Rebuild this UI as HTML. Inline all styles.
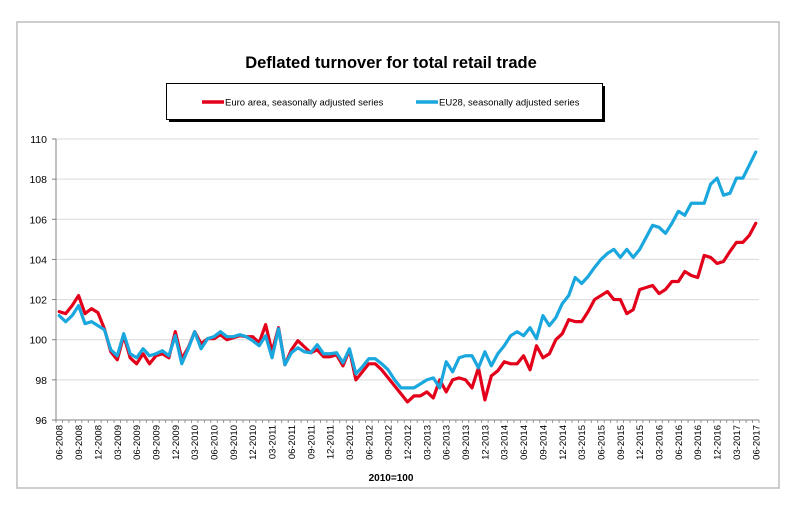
<!DOCTYPE html>
<html><head><meta charset="utf-8"><style>
html,body{margin:0;padding:0;background:#fff;width:805px;height:520px;overflow:hidden}
svg{display:block;font-family:"Liberation Sans",Arial,sans-serif}
</style></head><body>
<svg id="chart" width="805" height="520" viewBox="0 0 805 520">
<rect x="17" y="22" width="762" height="466" fill="#fff" stroke="#bdbdbd" stroke-width="1.5"/>
<text x="391" y="68" text-anchor="middle" font-size="16.5" font-weight="bold" fill="#000">Deflated turnover for total retail trade</text>
<g>
<rect x="169" y="86" width="436" height="36" fill="#000"/>
<rect x="166.5" y="83.5" width="436" height="36" fill="#fff" stroke="#000" stroke-width="1"/>
<g>
<line x1="202" y1="102" x2="224" y2="102" stroke="#e2001a" stroke-width="3.5"/>
<text x="225" y="105.5" font-size="9.5" fill="#000">Euro area, seasonally adjusted series</text>
</g>
<g>
<line x1="416" y1="102" x2="438" y2="102" stroke="#1aa7de" stroke-width="3.5"/>
<text x="439" y="105.5" font-size="9.5" fill="#000">EU28, seasonally adjusted series</text>
</g>
</g>
<g id="grid"></g>
<g id="yaxis"></g>
<g id="xaxis"></g>
<g id="series"></g>
<text x="391" y="481" text-anchor="middle" font-size="10" font-weight="bold" fill="#000">2010=100</text>
</svg>
<script>
const euroArea = [101.4,101.3,101.7,102.2,101.3,101.55,101.35,100.55,99.4,99.0,100.2,99.1,98.8,99.3,98.8,99.2,99.3,99.1,100.4,99.05,99.6,100.4,99.8,100.05,100.05,100.25,100.0,100.1,100.2,100.15,100.15,99.85,100.75,99.4,100.6,98.75,99.5,99.95,99.65,99.35,99.5,99.15,99.15,99.25,98.7,99.5,98.0,98.4,98.8,98.8,98.5,98.1,97.7,97.3,96.9,97.2,97.2,97.4,97.1,98.0,97.4,98.0,98.1,98.0,97.6,98.6,97.0,98.2,98.45,98.9,98.8,98.8,99.2,98.5,99.7,99.1,99.3,100.0,100.3,101.0,100.9,100.9,101.4,102.0,102.2,102.4,102.0,102.0,101.3,101.5,102.5,102.6,102.7,102.3,102.5,102.9,102.9,103.4,103.2,103.1,104.2,104.1,103.8,103.9,104.4,104.85,104.85,105.2,105.8];
const eu28 = [101.2,100.9,101.2,101.7,100.8,100.9,100.7,100.5,99.5,99.2,100.3,99.3,99.1,99.55,99.2,99.3,99.45,99.2,100.2,98.8,99.55,100.4,99.55,100.05,100.15,100.4,100.15,100.15,100.25,100.15,99.95,99.7,100.2,99.1,100.55,98.75,99.35,99.6,99.4,99.35,99.75,99.3,99.3,99.35,98.85,99.55,98.3,98.65,99.05,99.05,98.8,98.5,98.0,97.6,97.6,97.6,97.8,98.0,98.1,97.6,98.9,98.4,99.1,99.2,99.2,98.6,99.4,98.7,99.3,99.7,100.2,100.4,100.2,100.6,100.05,101.2,100.7,101.1,101.8,102.2,103.1,102.8,103.15,103.6,104.0,104.3,104.5,104.1,104.5,104.1,104.5,105.1,105.7,105.6,105.3,105.8,106.4,106.2,106.8,106.8,106.8,107.75,108.05,107.2,107.3,108.05,108.05,108.7,109.35];
const yTicks = [96,98,100,102,104,106,108,110];
const startYear = 2008, startMonth = 6;

const NS = "http://www.w3.org/2000/svg";
const X0 = 56, X1 = 759, Y0 = 420, Y1 = 139, YMIN = 96, YMAX = 110;
const N = euroArea.length;
const step = (X1 - X0) / N;
function xScale(i){ return X0 + step * (i + 0.5); }
function yScale(v){ return Y0 - (v - YMIN) / (YMAX - YMIN) * (Y0 - Y1); }
function mk(tag, attrs, parent){ const e = document.createElementNS(NS, tag); for (const k in attrs) e.setAttribute(k, attrs[k]); parent.appendChild(e); return e; }

const grid = document.getElementById('grid');
const yaxis = document.getElementById('yaxis');
const xaxis = document.getElementById('xaxis');
const series = document.getElementById('series');

yTicks.forEach(t => {
  const y = yScale(t);
  if (t !== YMIN) {
    const g = mk('line', {x1: X0, x2: X1, y1: y, y2: y, stroke: '#d9d9d9', 'stroke-width': 1}, grid);
    
    
  }
  mk('line', {x1: X0 - 4, x2: X0, y1: y, y2: y, stroke: '#808080', 'stroke-width': 1}, yaxis);
  const lbl = mk('text', {x: 47, y: y + 4, 'text-anchor': 'end', 'font-size': 10.5, fill: '#000'}, yaxis);
  lbl.textContent = t;
  
  
});
mk('line', {x1: X0, x2: X0, y1: Y1, y2: Y0, stroke: '#808080', 'stroke-width': 1}, yaxis);
mk('line', {x1: X0, x2: X1, y1: Y0, y2: Y0, stroke: '#808080', 'stroke-width': 1}, xaxis);

for (let i = 0; i <= N; i++) {
  const x = X0 + step * i;
  mk('line', {x1: x, x2: x, y1: Y0, y2: Y0 + 3, stroke: '#808080', 'stroke-width': 0.8}, xaxis);
}
for (let i = 0; i < N; i += 3) {
  const m = (startMonth - 1 + i) % 12 + 1;
  const yr = startYear + Math.floor((startMonth - 1 + i) / 12);
  const label = String(m).padStart(2, '0') + '-' + yr;
  const x = xScale(i) + 3.5;
  const t = mk('text', {x: x, y: 425, 'text-anchor': 'end', 'font-size': 9.5, fill: '#000', transform: 'rotate(-90 ' + x + ' 425)'}, xaxis);
  t.textContent = label;
  
  
}

function drawLine(vals, color, name){
  const pts = vals.map((v, i) => xScale(i).toFixed(2) + ',' + yScale(v).toFixed(2)).join(' ');
  const p = mk('polyline', {points: pts, fill: 'none', stroke: color, 'stroke-width': 3.2, 'stroke-linejoin': 'round', 'stroke-linecap': 'round'}, series);
  
  
}
drawLine(euroArea, '#e2001a', 'euro-area-line');
drawLine(eu28, '#1aa7de', 'eu28-line');
</script>
</body></html>
